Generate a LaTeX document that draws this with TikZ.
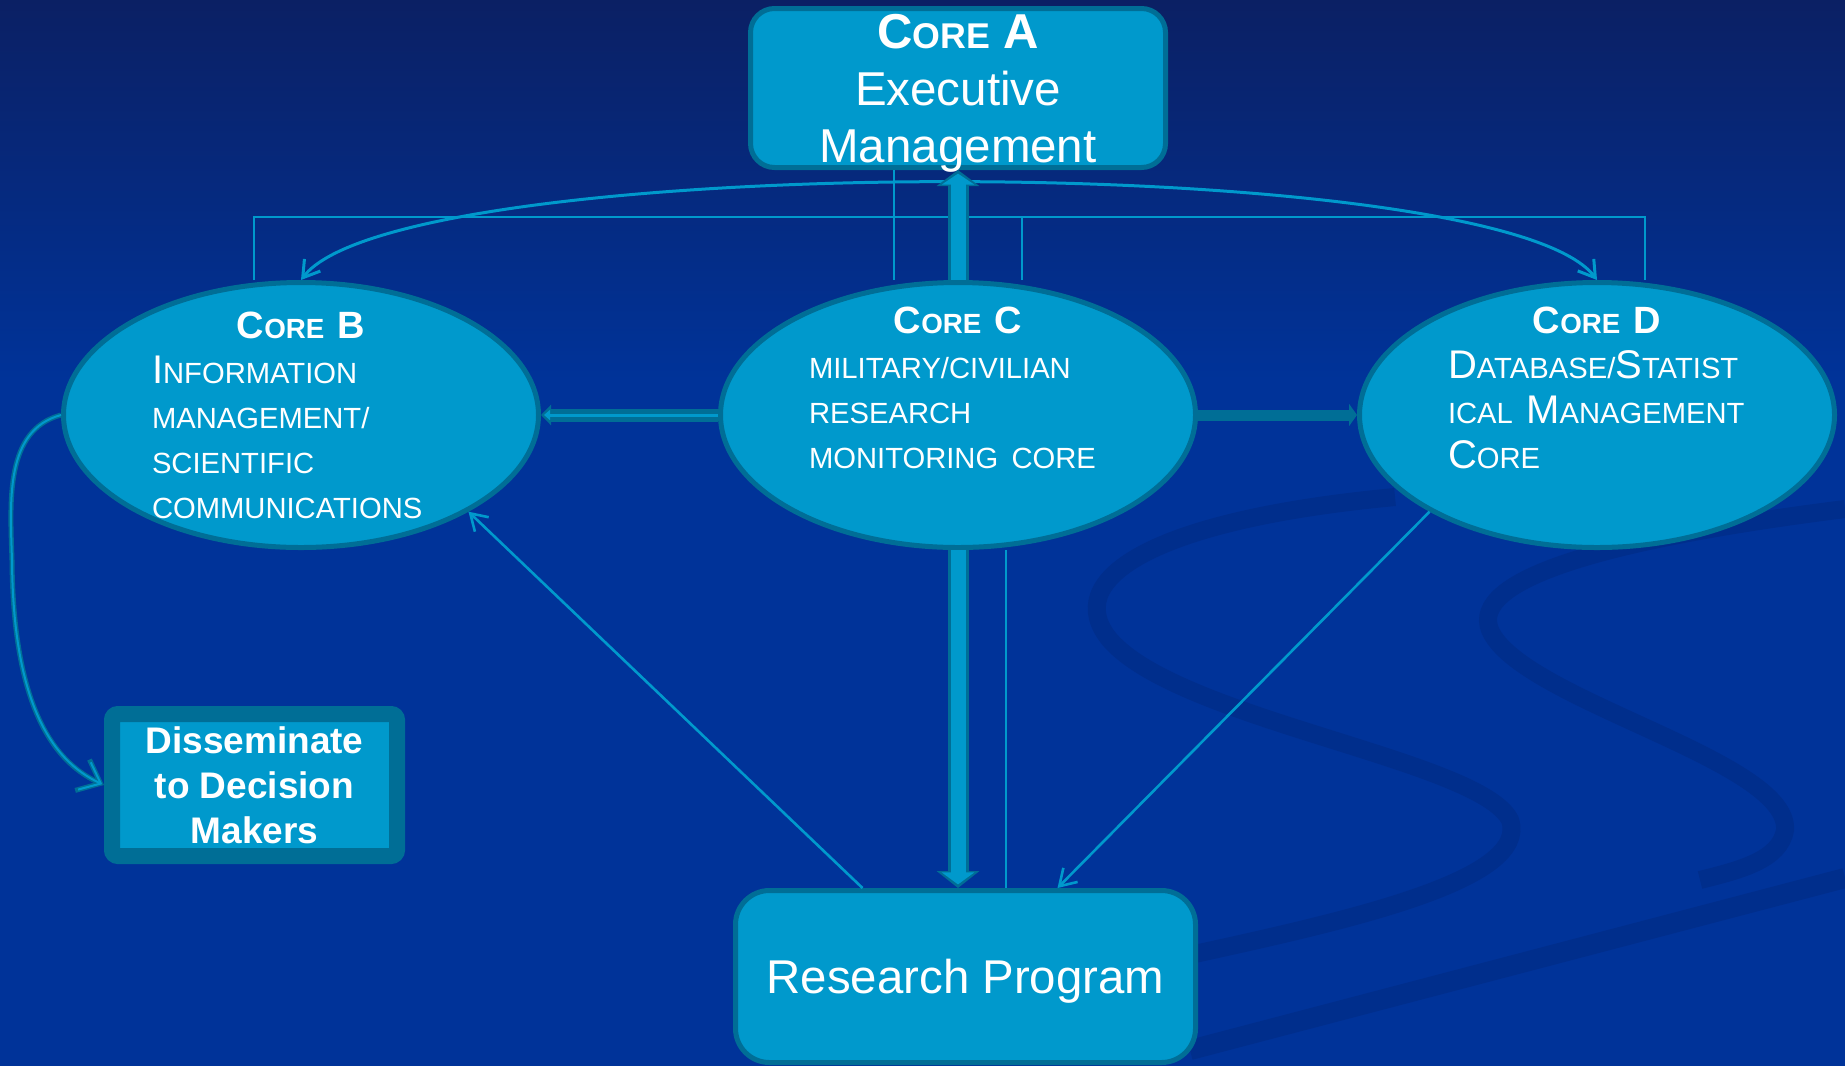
\documentclass[tikz,border=0pt]{standalone}
\usepackage{fontspec}
\setmainfont{Liberation Sans}
\usetikzlibrary{positioning,shapes.geometric,arrows.meta}
\definecolor{bgtop}{RGB}{11,32,100}
\definecolor{bgblue}{RGB}{0,51,153}
\definecolor{swirl}{RGB}{0,46,140}
\definecolor{corefill}{RGB}{0,153,204}
\definecolor{coreedge}{RGB}{0,110,150}
\makeatletter
\newcommand{\fakesc}[1]{{\fontsize{\strip@pt\dimexpr0.73\dimexpr\f@size pt\relax\relax}{\f@baselineskip}\selectfont #1}}
\makeatother

\begin{document}
\begin{tikzpicture}[x=0.5pt,y=-0.5pt,
  >={Straight Barb[length=8pt,width=10pt]},
  corenode/.style={ellipse,draw=coreedge,fill=corefill,line width=2.5pt,
    minimum width=237.5pt,minimum height=132.5pt,inner xsep=0pt,inner ysep=-12pt,
    text=white,text width=149pt,align=left,font=\fontsize{20}{22.5}\selectfont},
  boxnode/.style={rectangle,rounded corners=12pt,draw=coreedge,fill=corefill,
    line width=2.5pt,text=white,align=center,inner sep=0pt},
  thinline/.style={corefill,line width=1pt},
  thinarrow/.style={corefill,line width=1.3pt,->}]
%background
\path[use as bounding box] (0,0) rectangle (1845,1066);
\shade[top color=bgtop,bottom color=bgblue] (0,0) rectangle (1845,380);
\fill[bgblue] (0,379) rectangle (1845,1066);
\draw[swirl,line width=9pt] (1395,497) .. controls (1150,520) and (1060,580) .. (1110,640)
  .. controls (1180,720) and (1480,760) .. (1510,820) .. controls (1530,880) and (1350,920) .. (1190,955);
\draw[swirl,line width=9pt] (1845,509) .. controls (1600,540) and (1470,580) .. (1490,630)
  .. controls (1520,700) and (1790,760) .. (1785,830) .. controls (1780,860) and (1740,870) .. (1700,880);
\draw[swirl,line width=10pt] (1190,1050) -- (1845,878);

%the cores
\node[corenode] (coreC) at (958,415) {{\fontsize{19}{22.5}\selectfont\bfseries\makebox[\linewidth]{C\fakesc{ORE} C}}\\
  \fakesc{MILITARY/CIVILIAN}\\ \fakesc{RESEARCH}\\ \fakesc{MONITORING CORE}\\[5pt] \mbox{}};
\node[corenode,left=88.5pt of coreC] (coreB) {{\fontsize{19}{22.5}\selectfont\bfseries\makebox[\linewidth]{C\fakesc{ORE} B}}\\
  I\fakesc{NFORMATION}\\ \fakesc{MANAGEMENT/}\\ \fakesc{SCIENTIFIC}\\ \fakesc{COMMUNICATIONS}};
\node[corenode,right=79.5pt of coreC] (coreD) {{\fontsize{19}{22.5}\selectfont\bfseries\makebox[\linewidth]{C\fakesc{ORE} D}}\\
  D\fakesc{ATABASE/}S\fakesc{TATIST}\\ \fakesc{ICAL }M\fakesc{ANAGEMENT}\\ C\fakesc{ORE}\\[5pt] \mbox{}};
\node[boxnode,minimum width=207.5pt,minimum height=79.5pt,inner ysep=-3pt,text depth=0pt,
  font=\fontsize{23.75}{28.5}\selectfont,above=55pt of coreC] (coreA)
  {{\fontsize{24.5}{28.5}\selectfont\bfseries C\fakesc{ORE} A}\\ Executive\\ Management};
\node[boxnode,rounded corners=17pt,minimum width=230pt,minimum height=86pt,text depth=0pt,
  font=\fontsize{23.7}{28}\selectfont,below=169pt of coreC,xshift=3.75pt] (research) {Research Program};
\node[rectangle,rounded corners=3pt,draw=coreedge,fill=corefill,line width=8pt,
  minimum width=142.5pt,minimum height=71pt,inner sep=0pt,text=white,align=center,
  font=\fontsize{18.5}{22.5}\selectfont\bfseries,below=78pt of coreB,xshift=-23.25pt] (dissem)
  {Disseminate\\ to Decision\\ Makers};

%thin connectors
\coordinate (bus) at ([yshift=-23.5pt]coreA.south);
\draw[thinline] ([xshift=-32pt]coreA.south) -- ([xshift=-32pt]coreA.south |- coreC.north);
\draw[thinline] ([xshift=-23.5pt]coreB.north) |- (bus) -| ([xshift=24pt]coreD.north);
\draw[thinline] ([xshift=32pt]coreC.north) -- ([xshift=32pt]coreC.north |- bus);
\draw[thinline] ([xshift=24pt]coreC.south) -- ([xshift=24pt]coreC.south |- research.north);
\draw[thinarrow,<->,line width=1.5pt] (coreB.north) .. controls +(99,-130) and +(-97,-130) .. (coreD.north);
\draw[thinarrow] ([xshift=-51.5pt]research.north) -- (coreB.-30);
\draw[thinarrow] (coreD.-150) -- ([xshift=46pt]research.north);

%thick arrows
\draw[line width=10.5pt,coreedge,-{Triangle[length=8pt,width=21pt]}] (coreC.north) -- (coreA.south);
\draw[line width=7.5pt,corefill,-{Triangle[length=5.5pt,width=16pt]},shorten >=1.8pt] (coreC.north) -- (coreA.south);
\draw[line width=10.5pt,coreedge,-{Triangle[length=8.5pt,width=21pt]}] (coreC.south) -- (coreC.south |- research.north);
\draw[line width=7.5pt,corefill,-{Triangle[length=6pt,width=16pt]},shorten >=1.8pt] (coreC.south) -- (coreC.south |- research.north);
\draw[line width=6.5pt,coreedge,-{Triangle[length=5pt,width=10pt]}] (coreC.west) -- (coreB.east);
\draw[line width=1.5pt,corefill,-{Triangle[length=3pt,width=5pt]},shorten >=1.5pt] (coreC.west) -- (coreB.east);
\draw[line width=5.5pt,coreedge,-{Triangle[length=4pt,width=11pt]}] (coreC.east) -- (coreD.west);
\draw[line width=2.5pt,coreedge,-{Straight Barb[length=10pt,width=17pt]}] (coreB.west)
  .. controls (5,430) and (10,500) .. (12,560) .. controls (13,700) and (50,760) .. (dissem.west);
\draw[line width=1pt,corefill,-{Straight Barb[length=9pt,width=15pt]},shorten >=1pt] (coreB.west)
  .. controls (5,430) and (10,500) .. (12,560) .. controls (13,700) and (50,760) .. (dissem.west);
\end{tikzpicture}
\end{document}
